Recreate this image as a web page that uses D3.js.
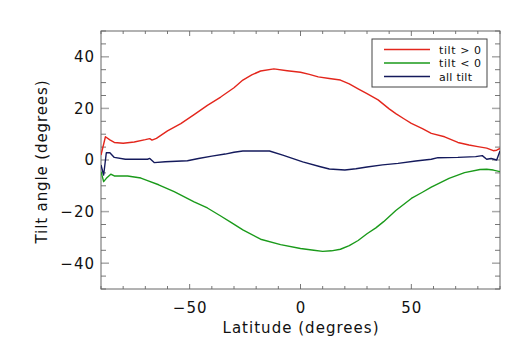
<!DOCTYPE html>
<html>
<head>
<meta charset="utf-8">
<script src="https://cdn.jsdelivr.net/npm/d3@7"></script>
<style>
  body { margin: 0; background: #fff; }
  svg text { font-family: "DejaVu Sans", sans-serif; fill: #111; }
</style>
</head>
<body>
<div id="chart"></div>
<script>
// values
const posLat = [-90, -88, -86, -84, -80, -75, -70, -68, -67, -65, -60, -54, -48, -42, -36, -30, -26, -22, -18, -12, -6, 0, 4, 8, 13, 18, 22, 26, 30, 35, 40, 43, 47, 50, 55, 59, 65, 71, 76, 80, 84, 87, 88.5, 90];
const posTilt = [1.9, 9.0, 7.8, 6.8, 6.5, 7.0, 7.9, 8.3, 7.7, 8.4, 11.3, 14.1, 17.6, 21.2, 24.4, 28.0, 31.0, 33.0, 34.5, 35.3, 34.6, 34.0, 33.2, 32.2, 31.6, 31.0, 29.5, 27.6, 25.7, 23.3, 19.8, 18.0, 15.8, 14.2, 12.2, 10.3, 9.0, 6.8, 5.8, 5.2, 4.6, 3.6, 3.8, 4.5];

const negLat = [-90, -88.8, -87.6, -85.6, -84, -78, -72, -69, -64, -57, -48, -42, -36, -31, -26, -18, -9, 0, 6, 10, 14, 18, 22, 26, 30, 34, 37.5, 43, 50, 55, 59, 67, 74, 81, 84, 87, 90];
const negTilt = [-4.5, -8.4, -7.1, -5.5, -6.2, -6.2, -7.0, -8.0, -9.6, -12.3, -16.2, -18.6, -21.7, -24.4, -27.1, -30.7, -32.8, -34.3, -35.0, -35.4, -35.2, -34.6, -33.2, -31.2, -28.6, -26.3, -23.9, -19.6, -14.9, -12.5, -10.5, -7.1, -4.9, -3.7, -3.6, -3.9, -4.5];

const allLat = [-90, -88.8, -87.6, -86, -84, -79, -69, -68, -66, -61, -51, -46, -40, -34, -30, -26, -14, -8, 1, 9, 13, 20, 25, 30, 37, 44, 52, 59, 62, 71, 79, 82, 84, 86, 88.5, 90];
const allTilt = [-1.9, -5.8, 2.8, 2.8, 1.0, 0.3, 0.3, 0.6, -1.0, -0.7, -0.3, 0.6, 1.5, 2.3, 3.0, 3.5, 3.5, 1.9, -0.7, -2.6, -3.5, -3.9, -3.4, -2.7, -1.9, -1.3, -0.4, 0.3, 0.9, 1.0, 1.3, 1.7, 0.3, 0.6, 0.0, 3.5];

const seriesNames = ["tilt > 0", "tilt < 0", "all tilt"];
const seriesColors = ["#e3261c", "#1a9a1a", "#141a5c"];
const xTicks = [-50, 0, 50];
const yTicks = [-40, -20, 0, 20, 40];

const W = 532, H = 354;
const margin = {top: 31, right: 32, bottom: 65, left: 101};
const width = W - margin.left - margin.right;
const height = H - margin.top - margin.bottom;

const svg = d3.select("#chart")
  .append("svg")
  .attr("width", W)
  .attr("height", H);

const g = svg.append("g")
  .attr("transform", `translate(${margin.left},${margin.top})`);

const x = d3.scaleLinear().domain([-90, 90]).range([0, width]);
const y = d3.scaleLinear().domain([-50, 50]).range([height, 0]);

g.append("clipPath").attr("id", "clip")
  .append("rect").attr("width", width).attr("height", height);

// inward ticks on all four sides, IDL style
const xMinor = d3.range(-90, 91, 10);
const yMinor = d3.range(-50, 51, 5);
const tickCol = "#777";

// bottom/top
[[height, -1], [0, 1]].forEach(([yy, dir]) => {
  g.append("g").selectAll("line")
    .data(xMinor)
    .enter().append("line")
    .attr("x1", d => x(d)).attr("x2", d => x(d))
    .attr("y1", yy)
    .attr("y2", d => yy + dir * (d % 50 === 0 ? 5 : 3))
    .attr("stroke", tickCol).attr("stroke-width", 1);
});
// left/right
[[0, 1], [width, -1]].forEach(([xx, dir]) => {
  g.append("g").selectAll("line")
    .data(yMinor)
    .enter().append("line")
    .attr("y1", d => y(d)).attr("y2", d => y(d))
    .attr("x1", xx)
    .attr("x2", d => xx + dir * (d % 20 === 0 ? 8 : 5))
    .attr("stroke", d => d % 20 === 0 ? "#aaa" : tickCol)
    .attr("stroke-width", d => d % 20 === 0 ? 1.5 : 1);
});

// frame
g.append("rect")
  .attr("width", width).attr("height", height)
  .attr("fill", "none").attr("stroke", "#666").attr("stroke-width", 1);

// tick labels via axes with hidden lines
const fmt = d => d < 0 ? "\u2212" + Math.abs(d) : d;
const xAxis = g.append("g")
  .attr("transform", `translate(0,${height})`)
  .call(d3.axisBottom(x).tickValues(xTicks).tickSize(0).tickPadding(13).tickFormat(fmt));
const yAxis = g.append("g")
  .call(d3.axisLeft(y).tickValues(yTicks).tickSize(0).tickPadding(6).tickFormat(fmt));
[xAxis, yAxis].forEach(a => {
  a.select(".domain").remove();
  a.selectAll("text")
    .style("font-family", "DejaVu Sans, sans-serif")
    .style("font-size", "15px")
    .style("letter-spacing", "1px")
    .attr("fill", "#111");
});

// axis titles
svg.append("text")
  .attr("x", margin.left + x(0))
  .attr("y", 333)
  .attr("text-anchor", "middle")
  .style("font-size", "15px")
  .attr("textLength", 156)
  .text("Latitude (degrees)");

svg.append("text")
  .attr("transform", `translate(47,${162}) rotate(-90)`)
  .attr("text-anchor", "middle")
  .style("font-size", "15px")
  .attr("textLength", 163)
  .text("Tilt angle (degrees)");

// lines
const line = d3.line().x(d => x(d[0])).y(d => y(d[1]));
const series = [
  d3.zip(posLat, posTilt),
  d3.zip(negLat, negTilt),
  d3.zip(allLat, allTilt)
];
const plot = g.append("g").attr("clip-path", "url(#clip)");
series.forEach((s, i) => {
  plot.append("path")
    .datum(s)
    .attr("fill", "none")
    .attr("stroke", seriesColors[i])
    .attr("stroke-width", 1.4)
    .attr("stroke-linejoin", "round")
    .attr("d", line);
});

// legend
const legLen = [42, 42, 33];
const leg = svg.append("g").attr("transform", "translate(372,39)");
leg.append("rect")
  .attr("width", 115).attr("height", 48)
  .attr("fill", "#fff").attr("stroke", "#444").attr("stroke-width", 1);
seriesNames.forEach((name, i) => {
  const ly = 10.5 + i * 13.5;
  leg.append("line")
    .attr("x1", 12).attr("x2", 58)
    .attr("y1", ly).attr("y2", ly)
    .attr("stroke", seriesColors[i]).attr("stroke-width", 1.4);
  leg.append("text")
    .attr("x", 67).attr("y", ly + 4)
    .style("font-size", "11px")
    .attr("textLength", legLen[i])
    .attr("lengthAdjust", "spacing")
    .text(name);
});
</script>
</body>
</html>
